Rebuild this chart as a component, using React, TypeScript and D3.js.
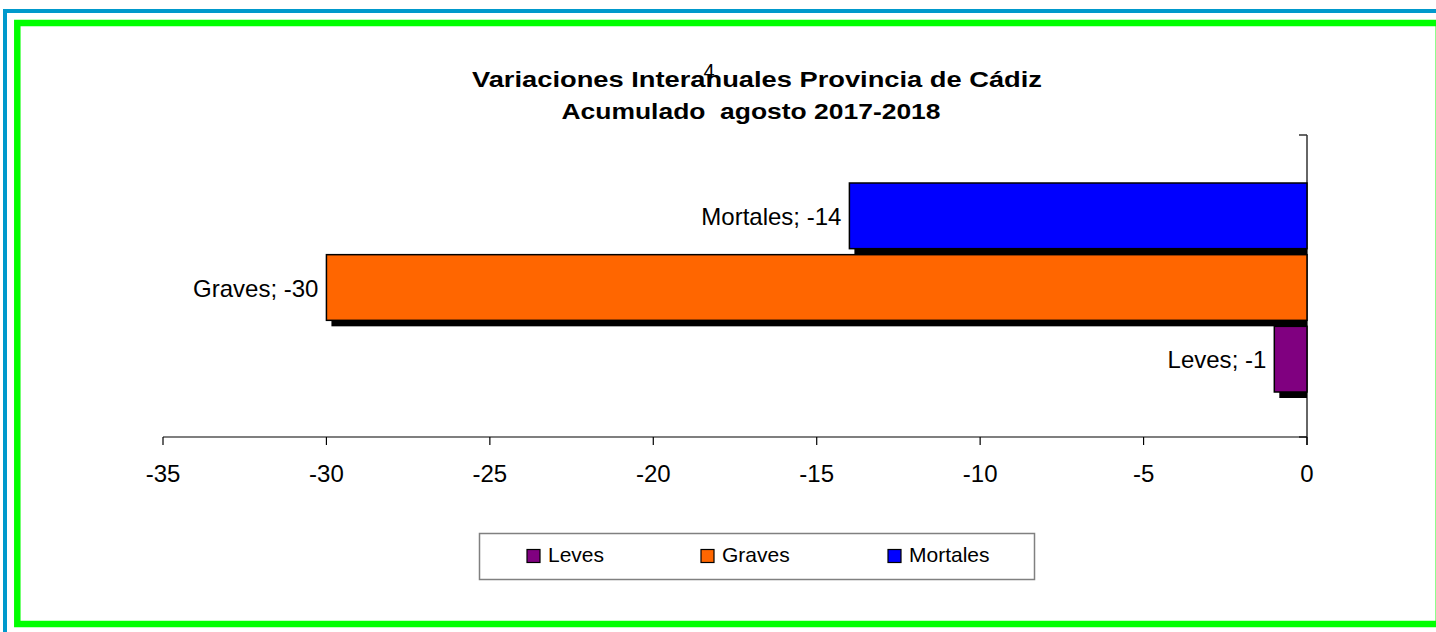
import React from 'react';
import * as d3 from 'd3';

const WIDTH = 1436;
const HEIGHT = 632;

// series in legend order
const SERIES = ["Leves", "Graves", "Mortales"];
const VALUES = [-1, -30, -14];
const COLORS = ["#800080", "#FF6600", "#0000FF"];
const X_TICKS = [-35, -30, -25, -20, -15, -10, -5, 0];
const TITLE = ["Variaciones Interanuales Provincia de Cádiz", "Acumulado  agosto 2017-2018"];
const TITLE_W = [570, 379];

const PLOT = { left: 163, right: 1307, top: 135, bottom: 437 };
const LEGEND_X = [527, 701, 888];
const SHADOW = 5;

export default function App() {
    const x = d3.scaleLinear().domain([-35, 0]).range([PLOT.left, PLOT.right]);

    // one category, the series stacked top-down in reverse order (Excel style)
    const cat = d3.scaleBand().domain(["cat"]).range([PLOT.top, PLOT.bottom]).paddingOuter(0.16);
    const y = d3.scaleBand()
        .domain([...SERIES].reverse())
        .range([183, 398])
        .padding(0);
    const barH = y.bandwidth() - 6;

    const font = "Arial, 'Liberation Sans', sans-serif";

    return (
        <div style={{ position: "absolute", left: 0, top: 0 }}>
            <svg width={WIDTH} height={HEIGHT} style={{ display: "block", background: "#fff" }}>
                {/* frames */}
                <rect x={5} y={11} width={1440} height={640} fill="none" stroke="#0099CC" strokeWidth={4} />
                <rect x={17.3} y={23} width={1421.5} height={601} fill="none" stroke="#00FF00" strokeWidth={6.5} />

                {/* title */}
                {TITLE.map((t, i) => (
                    <text key={i} x={757 - i * 6} y={87 + i * 32} textAnchor="middle" fontFamily={font}
                        fontSize={22} fontWeight="bold" fill="#000" textLength={TITLE_W[i]}
                        lengthAdjust="spacingAndGlyphs" style={{ whiteSpace: "pre" }}>{t}</text>
                ))}
                <text x={709} y={78} textAnchor="middle" fontFamily={font} fontSize={20} fill="#000">4</text>

                {/* category axis */}
                <line x1={PLOT.right} x2={PLOT.right} y1={PLOT.top} y2={PLOT.bottom + 8} stroke="#333" strokeWidth={1.5} />
                {[cat.range()[0], cat.range()[1]].map((v, i) => (
                    <line key={i} x1={PLOT.right - 8} x2={PLOT.right} y1={v} y2={v} stroke="#333" strokeWidth={1.5} />
                ))}

                {/* value axis */}
                <line x1={PLOT.left} x2={PLOT.right} y1={PLOT.bottom} y2={PLOT.bottom} stroke="#000" strokeWidth={1.2} />
                {X_TICKS.map(t => (
                    <g key={t}>
                        <line x1={x(t)} x2={x(t)} y1={PLOT.bottom} y2={PLOT.bottom + 8} stroke="#000" strokeWidth={1.2} />
                        <text x={x(t)} y={482} textAnchor="middle" fontFamily={font} fontSize={24} fill="#000">{t}</text>
                    </g>
                ))}

                {/* bars with shadow */}
                {SERIES.map((s, i) => {
                    const v = VALUES[i];
                    const yy = y(s)!;
                    const x0 = x(v);
                    const w = x(0) - x0;
                    return (
                        <g key={s}>
                            <rect x={x0 + SHADOW} y={yy + SHADOW + 1} width={w - SHADOW} height={barH} fill="#000" />
                            <rect x={x0} y={yy} width={w} height={barH} fill={COLORS[i]} stroke="#000" strokeWidth={1.5} />
                            <text x={x0 - 8} y={yy + barH / 2 + 9} textAnchor="end" fontFamily={font} fontSize={24} fill="#000">
                                {s}; {v}
                            </text>
                        </g>
                    );
                })}

                {/* legend */}
                <rect x={479.5} y={533.5} width={555} height={46} fill="#fff" stroke="#808080" strokeWidth={1.5} />
                {SERIES.map((s, i) => (
                    <g key={s}>
                        <rect x={LEGEND_X[i]} y={549.5} width={13} height={13} fill={COLORS[i]} stroke="#000" strokeWidth={1.2} />
                        <text x={LEGEND_X[i] + 21} y={562} fontFamily={font} fontSize={21} fill="#000">{s}</text>
                    </g>
                ))}
            </svg>
        </div>
    );
}
